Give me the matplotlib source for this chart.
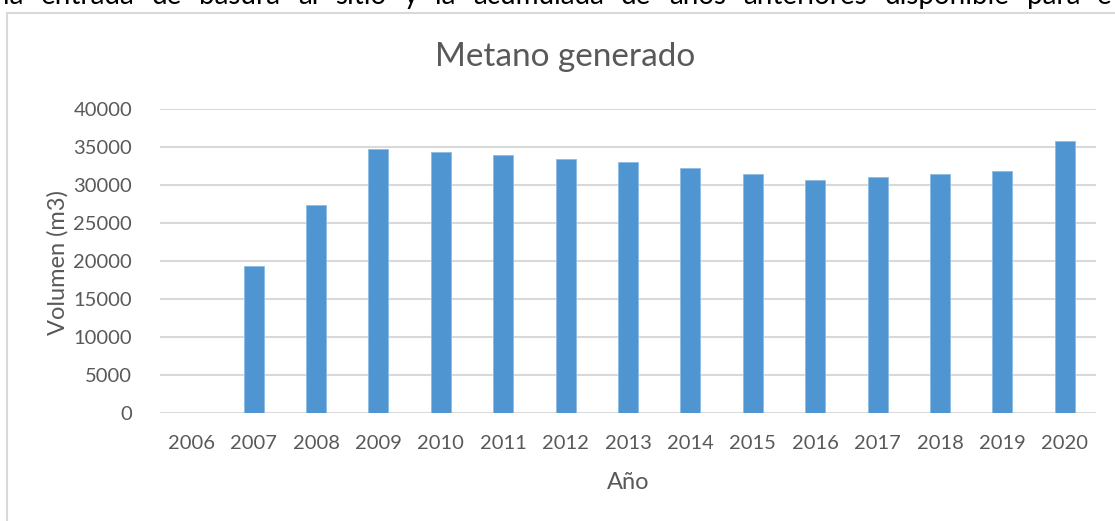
import matplotlib.pyplot as plt
from matplotlib.patches import Rectangle

years = ["2006", "2007", "2008", "2009", "2010", "2011", "2012", "2013",
         "2014", "2015", "2016", "2017", "2018", "2019", "2020"]
methane = [0, 19300, 27400, 34800, 34300, 33900, 33400, 33000,
           32200, 31400, 30700, 31100, 31500, 31800, 35800]
y_ticks = [0, 5000, 10000, 15000, 20000, 25000, 30000, 35000, 40000]
body_line = "la entrada de basura al sitio y la acumulada de años anteriores disponible para e"

GRAY = "#595959"
BLUE = "#4F95D2"

plt.rcParams["font.family"] = ["Lato", "DejaVu Sans"]

fig = plt.figure(figsize=(11.15, 5.21), dpi=100)
W, H = 1115, 521

# chart frame (cut off by the screenshot on the right and bottom)
fig.patches.append(Rectangle((7 / W, -0.1), 1.2, 1.1 - 13 / H,
                             transform=fig.transFigure, fill=False,
                             edgecolor="#D9D9D9", linewidth=1.5))

# clipped, justified line of body text above the chart
words = body_line.split()
texts = [fig.text(0, 1 - 4 / H, w, fontsize=20, color="black",
                  va="baseline", ha="left") for w in words]
renderer = fig.canvas.get_renderer()
widths = [t.get_window_extent(renderer).width for t in texts]
x0, x1 = 3, 1112
gap = (x1 - x0 - sum(widths)) / (len(words) - 1)
pos = x0
for t, w in zip(texts, widths):
    t.set_x(pos / W)
    pos += w + gap

ax = fig.add_axes([160 / W, 1 - 413 / H, (1096 - 160) / W, (413 - 109) / H])
x = range(len(years))
ax.bar(x, methane, width=0.32, color=BLUE, edgecolor="#8DBBE3",
       linewidth=0.6, zorder=3)

ax.set_xlim(-0.5, len(years) - 0.5)
ax.set_ylim(0, 40000)
ax.set_yticks(y_ticks)
ax.set_xticks(list(x), labels=years)
ax.grid(axis="y", color="#D9D9D9", linewidth=1.5, zorder=0)
for s in ax.spines.values():
    s.set_visible(False)
ax.tick_params(axis="both", length=0, colors=GRAY, labelsize=14.5)
ax.tick_params(axis="y", pad=20)
ax.tick_params(axis="x", pad=16)

ax.set_xlabel("Año", fontsize=17, color=GRAY, labelpad=14)
ax.set_ylabel("Volumen (m3)", fontsize=17, color=GRAY)
ax.yaxis.set_label_coords(-0.098, 0.495)

fig.text(565 / W, 1 - 57 / H, "Metano generado", fontsize=24, color=GRAY,
         ha="center", va="center")

fig.savefig("out.png", dpi=100)
